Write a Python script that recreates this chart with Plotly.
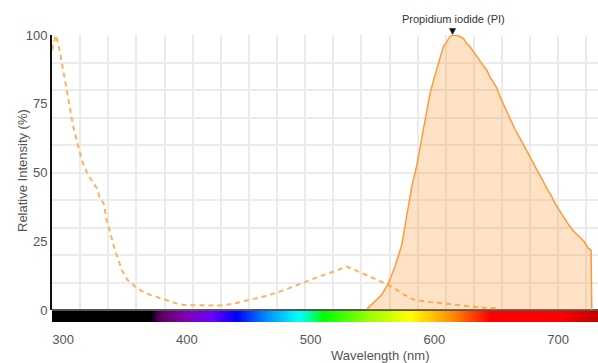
import plotly.graph_objects as go

# ---- data ----
em_wl = [545.9, 551.0, 557.5, 562.9, 568.3, 573.7, 577.7, 581.8, 585.8, 588.5, 591.2, 594.0, 596.6,
         600.0, 603.3, 607.3, 610.0, 612.7, 615.2, 619.2, 623.5, 626.0, 628.9, 631.5, 634.3, 637.0,
         640.0, 642.4, 645.0, 648.0, 650.4, 653.1, 657.0, 661.2, 665.0, 669.3, 673.0, 677.4, 681.0,
         685.5, 688.0, 690.9, 694.3, 698.0, 702.4, 705.0, 707.8, 712.0, 715.9, 719.0, 721.3, 724.5,
         726.7, 727.3]
em_val = [0.5, 2.8, 5.5, 9.7, 15.8, 23.6, 33.9, 44.8, 52.5, 59.0, 65.5, 72.0, 78.8,
          84.5, 89.7, 95.7, 97.5, 99.4, 100.0, 99.8, 98.8, 97.0, 95.7, 94.0, 92.1, 90.8,
          88.6, 87.3, 84.8, 82.6, 80.9, 77.6, 73.8, 69.1, 65.9, 62.4, 59.5, 55.7, 52.6,
          49.1, 46.8, 44.2, 41.8, 38.5, 35.2, 33.6, 31.5, 29.0, 27.3, 25.9, 24.8, 22.4,
          21.8, 0.0]

ex_wl = [291.1, 294.3, 297.0, 300.2, 304.3, 308.3, 312.4, 315.2, 317.8, 320.4, 324.0, 327.4, 329.8,
         332.8, 335.3, 336.8, 339.0, 342.0, 347.6, 352.0, 358.4, 364.0, 370.5, 377.0, 384.0, 390.0,
         397.5, 405.0, 413.6, 420.0, 426.9, 438.0, 451.1, 463.0, 475.3, 487.0, 499.6, 509.0, 518.4,
         524.0, 529.3, 537.0, 545.4, 553.0, 561.6, 569.7, 576.0, 583.2, 594.0, 607.3, 618.0, 628.9,
         640.0, 650.4]
ex_val = [94.5, 100.0, 95.0, 87.3, 77.6, 66.7, 59.4, 54.5, 51.5, 49.1, 46.5, 44.2, 40.6,
          38.8, 32.7, 30.3, 26.5, 21.8, 14.5, 11.0, 8.5, 6.8, 5.5, 4.5, 3.6, 2.6,
          1.8, 1.7, 1.6, 1.6, 1.6, 2.3, 3.6, 5.0, 6.7, 8.8, 10.9, 12.5, 13.9,
          14.9, 15.8, 14.3, 12.7, 11.0, 9.4, 7.3, 5.5, 3.8, 3.0, 2.4, 1.8, 1.2,
          0.8, 0.6]

dye_name = "Propidium iodide (PI)"
dye_peak_wl = 614.5

y_ticks = [0, 25, 50, 75, 100]
x_ticks = [300, 400, 500, 600, 700]

# visible-spectrum colour stops (wavelength nm, colour)
spec_wl = [291, 371, 375, 380, 400, 420, 440, 465, 490, 500, 510, 545, 580, 612, 645, 700, 720, 732]
spec_col = ["#000000", "#000000", "#3a0048", "#610061", "#8300b5", "#6a00ff", "#0000ff", "#0092ff",
            "#00ffff", "#00ff92", "#00ff00", "#92ff00", "#ffff00", "#ff9400", "#ff0000", "#ff0000",
            "#da0000", "#c40000"]

X_RANGE = [291.1, 732.3]

# ---- figure ----
fig = go.Figure()

# spectrum bar
bar_x = list(range(291, 733))
lo, hi = spec_wl[0], spec_wl[-1]
colorscale = [[(w - lo) / (hi - lo), c] for w, c in zip(spec_wl, spec_col)]
fig.add_trace(go.Heatmap(
    x=bar_x, y=[0.5], z=[bar_x], colorscale=colorscale, zmin=lo, zmax=hi,
    showscale=False, hoverinfo="skip", xaxis="x", yaxis="y2", zsmooth="best"))

# excitation (dashed)
fig.add_trace(go.Scatter(
    x=ex_wl, y=ex_val, mode="lines", name="Excitation",
    line=dict(color="#ffb061", width=2, dash="5px,4px"), xaxis="x", yaxis="y"))

# emission (filled)
fig.add_trace(go.Scatter(
    x=em_wl, y=em_val, mode="lines", name="Emission", fill="tozeroy",
    fillcolor="rgba(250,150,50,0.28)",
    line=dict(color="#ff9a3c", width=1.5), xaxis="x", yaxis="y"))

# peak marker + label (paper y, data x)
fig.add_annotation(x=dye_peak_wl, y=1.014, xref="x", yref="paper", text="▼",
                   showarrow=False, yanchor="middle", xanchor="center",
                   font=dict(family="DejaVu Sans", size=9, color="#111"))
fig.add_annotation(x=dye_peak_wl + 0.7, y=1.056, xref="x", yref="paper", text=dye_name,
                   showarrow=False, yanchor="middle", xanchor="center",
                   font=dict(size=11, color="#333"))

# axis titles
fig.add_annotation(x=(432 - 52) / 546, y=-0.118, xref="paper", yref="paper",
                   text="Wavelength (nm)", showarrow=False, yanchor="middle",
                   font=dict(size=13, color="#555"))
fig.add_annotation(x=(22 - 52) / 546, y=(322 - 171) / 287, xref="paper", yref="paper",
                   text="Relative Intensity (%)", showarrow=False, textangle=-90,
                   xanchor="center", yanchor="middle",
                   font=dict(size=13, color="#555"))

grid_col = "#ebebeb"
fig.update_layout(
    width=598, height=363,
    margin=dict(l=52, r=0, t=35, b=41),
    paper_bgcolor="white", plot_bgcolor="white",
    showlegend=False,
    font=dict(family="Liberation Sans, Arial, sans-serif", size=13, color="#555"),
    xaxis=dict(
        range=X_RANGE, anchor="y2", tickvals=x_ticks, ticktext=[str(v) for v in x_ticks],
        showgrid=False, zeroline=False, showline=False,
        ticks="outside", ticklen=5, tickcolor="rgba(0,0,0,0)",
        minor=dict(tick0=291.1, dtick=22.73, showgrid=True, gridcolor=grid_col, gridwidth=2, ticks=""),
        tickfont=dict(size=13, color="#555"),
    ),
    yaxis=dict(
        domain=[0.0418, 1], range=[0, 100], anchor="x",
        tickvals=y_ticks, ticktext=[str(v) for v in y_ticks],
        showgrid=False, zeroline=True, zerolinecolor="#555", zerolinewidth=2,
        showline=True, linecolor="#111", linewidth=2,
        minor=dict(tick0=0, dtick=10, showgrid=True, gridcolor=grid_col, gridwidth=2, ticks=""),
        tickfont=dict(size=13, color="#555"),
    ),
    yaxis2=dict(
        domain=[0, 0.0383], range=[0, 1], anchor="x",
        showticklabels=False, showgrid=False, zeroline=False, showline=False,
    ),
)

fig.write_html("out.html", config={"displayModeBar": False},
               post_script="document.body.style.margin='0px';document.body.style.overflow='hidden';")
